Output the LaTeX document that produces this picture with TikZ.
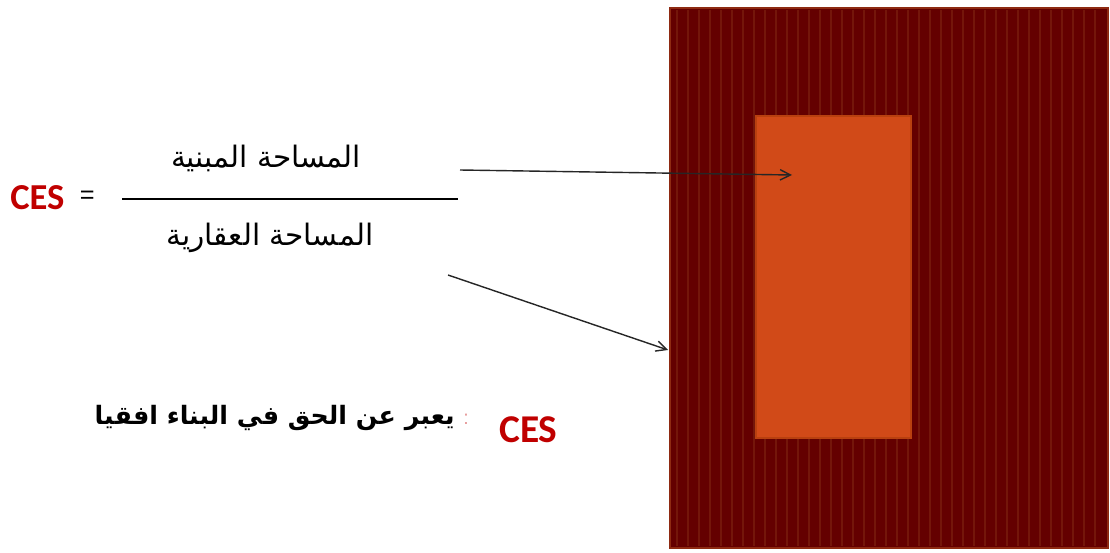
\documentclass[tikz,border=0pt]{standalone}
\usepackage{fontspec}
\usepackage{xcolor}
\usepackage{tikz}
\usetikzlibrary{arrows.meta, positioning, calc}
\setmainfont{Liberation Sans}
\newfontfamily\arabicfont[Script=Arabic]{DejaVu Sans}
\newfontfamily\cesfont{Carlito}
\TeXXeTstate=1
\definecolor{plotred}{HTML}{640000}
\definecolor{stripered}{HTML}{74160A}
\definecolor{plotedge}{HTML}{8E2A12}
\definecolor{builtorange}{HTML}{D14A18}
\definecolor{builtedge}{HTML}{B8400F}
\definecolor{cesred}{HTML}{C00000}

\begin{document}
\begin{tikzpicture}[
    x=0.025cm, y=-0.025cm,
    area/.style={font=\arabicfont\fontsize{21}{24}\selectfont, inner sep=0pt},
    cestxt/.style={font=\cesfont\bfseries\fontsize{#1}{#1}\selectfont, text=cesred, inner sep=0pt},
    arr/.style={-{Straight Barb[length=2.6mm, width=2.6mm]}, line width=1pt, black!85},
    stripe/.style={stripered, line width=0.9pt}
]
\useasboundingbox (0,0) rectangle (1110,552);

% plot
\node[draw=plotedge, fill=plotred, line width=1pt, minimum width=10.95cm, minimum height=13.5cm, inner sep=0pt] (plot) at (889,278) {};
\foreach \x in {677,688,...,1104}
    \draw[stripe] (\x,10) -- (\x,546);
\node[draw=builtedge, fill=builtorange, line width=1pt, minimum width=3.875cm, minimum height=8.05cm, inner sep=0pt] (built) at (833.5,277) {};

% ratio
\node[cestxt=26, anchor=west] (ces) at (10,198) {CES};
\node[font=\fontsize{18}{20}\selectfont, anchor=west] (eq) at (75,197) {=};
\coordinate (barL) at (122,199);
\coordinate (barR) at (458,199);
\draw[line width=1.6pt] (barL) -- (barR);
\node[area] (num) at (266,158) {\beginR المساحة المبنية\endR};
\node[area] (den) at (270,238) {\beginR المساحة العقارية\endR};

% arrows
\coordinate (numtail) at (460,170);
\coordinate (builtin) at (792,175);
\coordinate (dentail) at (448,275);
\coordinate (plotin) at (668,350);
\draw[arr] (numtail) -- (builtin);
\draw[arr] (dentail) -- (plotin);

% meaning
\node[font=\arabicfont\bfseries\fontsize{18}{21}\selectfont, inner sep=0pt, anchor=east] (meaning) at (455,418) {\beginR يعبر عن الحق في البناء افقيا\endR};
\node[font=\fontsize{14}{16}\selectfont, text=cesred!40, inner sep=0pt] (colon) at (466,419) {:};
\node[cestxt=28, anchor=west] (cesb) at (499,430) {CES};

\end{tikzpicture}
\end{document}
